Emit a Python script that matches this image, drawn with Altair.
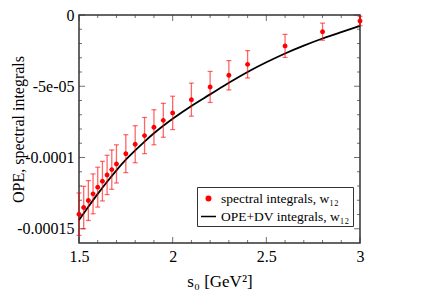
import altair as alt
import pandas as pd

# ---- data ----
s0_pts = [1.5, 1.525, 1.55, 1.575, 1.6, 1.625, 1.65, 1.675, 1.7, 1.75, 1.8, 1.85,
          1.9, 1.95, 2.0, 2.1, 2.2, 2.3, 2.4, 2.6, 2.8, 3.0]
spec_vals = [-1.398e-4, -1.351e-4, -1.302e-4, -1.255e-4, -1.208e-4, -1.166e-4,
             -1.122e-4, -1.085e-4, -1.045e-4, -0.973e-4, -0.907e-4, -0.846e-4,
             -0.788e-4, -0.739e-4, -0.687e-4, -0.594e-4, -0.505e-4, -0.423e-4,
             -0.346e-4, -0.217e-4, -0.117e-4, -0.042e-4]
spec_errs = [0.149e-4, 0.149e-4, 0.140e-4, 0.140e-4, 0.140e-4, 0.139e-4,
             0.138e-4, 0.138e-4, 0.134e-4, 0.133e-4, 0.130e-4, 0.127e-4,
             0.123e-4, 0.119e-4, 0.117e-4, 0.116e-4, 0.109e-4, 0.103e-4,
             0.096e-4, 0.081e-4, 0.060e-4, 0.033e-4]

s0_line = [1.5, 1.55, 1.6, 1.65, 1.7, 1.75, 1.8, 1.85, 1.9, 2.0, 2.1, 2.2, 2.3,
           2.4, 2.5, 2.6, 2.7, 2.8, 2.9, 3.0]
ope_vals = [-1.438e-4, -1.345e-4, -1.255e-4, -1.170e-4, -1.090e-4, -1.015e-4,
            -0.950e-4, -0.888e-4, -0.830e-4, -0.728e-4, -0.638e-4, -0.557e-4,
            -0.476e-4, -0.400e-4, -0.332e-4, -0.270e-4, -0.215e-4, -0.165e-4,
            -0.120e-4, -0.077e-4]

series_labels = ["spectral integrals, w\u2081\u2082", "OPE+DV integrals, w\u2081\u2082"]
series_colors = ["#ff0000", "#000000"]

x_domain = [1.5, 3.0]
y_domain = [-1.6e-4, 0.0]
x_major = [1.5, 2.0, 2.5, 3.0]
x_minor = [1.6, 1.7, 1.8, 1.9, 2.1, 2.2, 2.3, 2.4, 2.6, 2.7, 2.8, 2.9]
y_major = [0.0, -5e-5, -1e-4, -1.5e-4]
y_major_labels = ["0", "-5e-05", "-0.0001", "-0.00015"]
y_minor = [-1e-5, -2e-5, -3e-5, -4e-5, -6e-5, -7e-5, -8e-5, -9e-5,
           -1.1e-4, -1.2e-4, -1.3e-4, -1.4e-4]

FONT = "Liberation Serif"
FRAME = "#333333"
XTITLE = "s\u2080 [GeV\u00b2]"
YTITLE = "OPE, spectral integrals"

pts = pd.DataFrame({"s": s0_pts, "v": spec_vals, "e": spec_errs, "cat": series_labels[0]})
line = pd.DataFrame({"s": s0_line, "v": ope_vals, "cat": series_labels[1]})

xs = alt.Scale(domain=x_domain, nice=False, zero=False)
ys = alt.Scale(domain=y_domain, nice=False, zero=False)

# y label expression built from the label lists
expr = "'" + y_major_labels[-1] + "'"
for i in range(len(y_major) - 2, -1, -1):
    th = (y_major[i] + y_major[i + 1]) / 2
    expr = f"datum.value > {th} ? '{y_major_labels[i]}' : ({expr})"

xaxis = alt.Axis(values=x_major, format="~g", ticks=False, domain=False, grid=False,
                 labelFont=FONT, labelFontSize=16, labelColor="black", labelPadding=5,
                 labelFlush=False, title=XTITLE, titleFont=FONT,
                 titleFontSize=17, titleFontWeight="normal", titleColor="black",
                 titlePadding=9)
yaxis = alt.Axis(values=y_major, labelExpr=expr, ticks=False, domain=False, grid=False,
                 labelFont=FONT, labelFontSize=16, labelColor="black", labelPadding=5,
                 labelFlush=False, title=YTITLE, titleFont=FONT,
                 titleFontSize=16, titleFontWeight="normal", titleColor="black",
                 titleX=-53)

legend = alt.Legend(title=None, orient="none", legendX=118, legendY=172,
                    direction="vertical", fillColor="white", strokeColor=FRAME,
                    padding=3, labelFont=FONT, labelFontSize=13.5, labelColor="black",
                    labelLimit=0, symbolSize=225, symbolStrokeWidth=1.5,
                    rowPadding=3, labelOffset=4)

circle_path = "M-0.3,0A0.3,0.3 0 1,0 0.3,0A0.3,0.3 0 1,0 -0.3,0Z"
dash_path = "M-1,0H1"

fill_scale = alt.Scale(domain=series_labels, range=series_colors)
stroke_scale = alt.Scale(domain=series_labels, range=series_colors)
shape_scale = alt.Scale(domain=series_labels, range=[circle_path, dash_path])

def X(field):
    return alt.X(field, scale=xs, axis=xaxis, title=XTITLE)

def Y(field):
    return alt.Y(field, scale=ys, axis=yaxis, title=YTITLE)

def tick_df(vals):
    return pd.DataFrame({"t": vals})

# frame ticks (inward), positioned through the scales
def xticks(vals, size):
    top = alt.Chart(tick_df(vals)).mark_tick(orient="vertical", size=size, thickness=1,
                                             color=FRAME, yOffset=size / 2).encode(
        x=X("t:Q"),
        y=alt.YDatum(y_domain[1], scale=ys, axis=yaxis, title=YTITLE))
    bot = alt.Chart(tick_df(vals)).mark_tick(orient="vertical", size=size, thickness=1,
                                             color=FRAME, yOffset=-size / 2).encode(
        x=X("t:Q"),
        y=alt.YDatum(y_domain[0], scale=ys, axis=yaxis, title=YTITLE))
    return [top, bot]

def yticks(vals, size):
    left = alt.Chart(tick_df(vals)).mark_tick(orient="horizontal", size=size, thickness=1,
                                              color=FRAME, xOffset=size / 2).encode(
        y=Y("t:Q"),
        x=alt.XDatum(x_domain[0], scale=xs, axis=xaxis, title=XTITLE))
    right = alt.Chart(tick_df(vals)).mark_tick(orient="horizontal", size=size, thickness=1,
                                               color=FRAME, xOffset=-size / 2).encode(
        y=Y("t:Q"),
        x=alt.XDatum(x_domain[1], scale=xs, axis=xaxis, title=XTITLE))
    return [left, right]

tick_layers = xticks(x_major, 6) + xticks(x_minor, 3) + yticks(y_major, 6) + yticks(y_minor, 3)

base_pts = alt.Chart(pts).transform_calculate(lo="datum.v - datum.e", hi="datum.v + datum.e")

bars = base_pts.mark_rule(color="#ff0000", strokeWidth=1.3, opacity=0.6).encode(
    x=X("s:Q"), y=Y("lo:Q"), y2="hi:Q")
cap_lo = base_pts.mark_tick(orient="horizontal", size=5, thickness=1.2, color="#ff0000",
                            opacity=0.6).encode(x=X("s:Q"), y=Y("lo:Q"))
cap_hi = base_pts.mark_tick(orient="horizontal", size=5, thickness=1.2, color="#ff0000",
                            opacity=0.6).encode(x=X("s:Q"), y=Y("hi:Q"))

curve = alt.Chart(line).mark_line(strokeWidth=1.8, interpolate="monotone").encode(
    x=X("s:Q"), y=Y("v:Q"),
    stroke=alt.Stroke("cat:N", scale=stroke_scale, legend=legend))

points = alt.Chart(pts).mark_point(filled=True, size=260, opacity=1).encode(
    x=X("s:Q"), y=Y("v:Q"),
    fill=alt.Fill("cat:N", scale=fill_scale, legend=legend),
    shape=alt.Shape("cat:N", scale=shape_scale, legend=legend))

chart = alt.layer(curve, *tick_layers, bars, cap_lo, cap_hi, points).properties(
    width=281, height=228,
    autosize=alt.AutoSizeParams(type="none"),
    padding={"left": 71, "top": 7, "right": 63, "bottom": 53},
    background="white",
).configure_view(stroke=FRAME, strokeWidth=1.5)

chart.save("out.html", embed_options={"renderer": "svg", "actions": False})
